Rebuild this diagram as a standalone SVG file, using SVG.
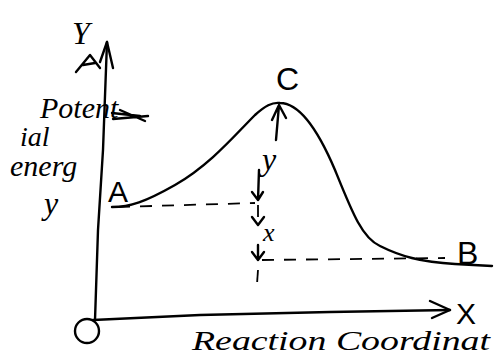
<svg xmlns="http://www.w3.org/2000/svg" width="494" height="358" viewBox="0 0 494 358">
<style>
.ln{fill:none;stroke:#000;stroke-width:2.4;stroke-linecap:round;stroke-linejoin:round}
.ds{fill:none;stroke:#000;stroke-width:1.8;stroke-dasharray:12 10}
.t{font-family:"Liberation Serif",serif;font-style:italic;fill:#000}
.s{font-family:"Liberation Sans",sans-serif;fill:#000}
</style>
<rect width="494" height="358" fill="#fff"/>
<g id="axes">
<path class="ln" d="M107,42 L103,150 L98,230 L95,320"/>
<path class="ln" d="M100,62 L107,42 L113,68"/>
<path class="ln" d="M76,72 L90,55 L100,68 M83,65 L95,63"/>
<path class="ln" d="M93,320 L200,315 L330,312 L450,310"/>
<path class="ln" d="M430,301 L450,310 L432,318"/>
<ellipse class="ln" cx="87" cy="331" rx="12" ry="12"/>
</g>
<g id="labels">
<text class="t" x="72" y="44" font-size="32">Y</text>
<text class="s" x="456" y="324" font-size="30">X</text>
<text class="t" x="40" y="118" font-size="30">Potent</text>
<path class="ln" d="M112,113 L140,116 M113,119 L148,116 M120,110 L145,121"/>
<text class="t" x="20" y="146" font-size="28">ial</text>
<text class="t" x="10" y="176" font-size="30">energ</text>
<text class="t" x="44" y="214" font-size="32">y</text>
<text class="t" x="192" y="350" font-size="28" textLength="298" lengthAdjust="spacingAndGlyphs">Reaction Coordinat</text>
</g>
<g id="A"><text class="s" x="108" y="202" font-size="30">A</text></g>
<g id="C"><text class="s" x="276" y="90" font-size="32">C</text></g>
<g id="B"><text class="s" x="457" y="264" font-size="32">B</text></g>
<g id="curve">
<path class="ln" d="M112,207 C130,207 145,202 175,185 C210,165 235,135 255,115 C265,106 272,102 280,103 C300,103 318,130 335,170 C352,212 362,238 380,246 C400,256 420,262 455,264 L492,266"/>
</g>
<g id="connectors">
<path class="ds" d="M118,207 L255,203"/>
<path class="ds" d="M262,260 L445,258"/>
<path class="ln" d="M276,140 L279,105 M272,120 L279,105 L286,118"/>
<path class="ln" d="M259,170 L258,200 M252,192 L258,200 L263,192"/>
<path class="ds" d="M258,205 L258,225" stroke-dasharray="8 6"/>
<path class="ln" d="M252,217 L258,225 L264,217"/>
<path class="ln" d="M258,245 L258,260 M252,252 L258,260 L264,252"/>
<path class="ds" d="M258,270 L257,284" stroke-dasharray="4 6"/>
<text class="t" x="263" y="241" font-size="26">x</text>
<text class="t" x="262" y="170" font-size="32">y</text>
</g>
</svg>
